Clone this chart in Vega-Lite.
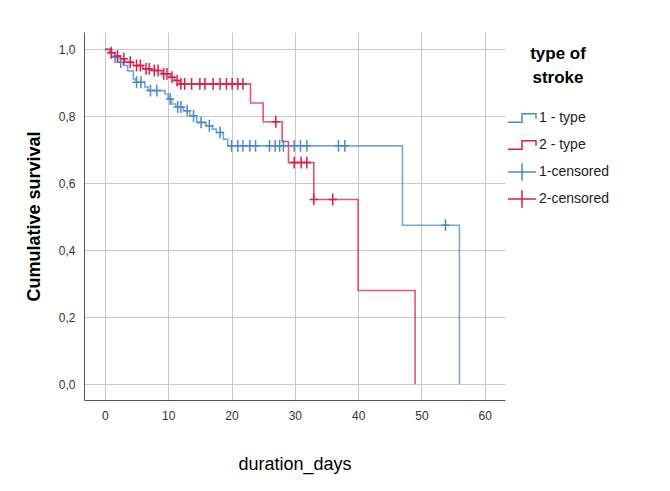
{
  "$schema": "https://vega.github.io/schema/vega-lite/v6.json",
  "width": 421,
  "height": 368,
  "autosize": "none",
  "padding": {"left": 84, "top": 32, "right": 165, "bottom": 91},
  "background": "white",
  "config": {
    "view": {"stroke": null},
    "font": "Liberation Sans",
    "axis": {
      "grid": true,
      "gridColor": "#c8c8c8",
      "gridWidth": 1,
      "ticks": false,
      "domainColor": "#555555",
      "domainWidth": 1,
      "labelFontSize": 12,
      "labelColor": "#333333",
      "labelPadding": 9,
      "titleColor": "#000000"
    }
  },
  "datasets": {
    "curves": [
      {"series": "1 - type", "t": 0, "s": 1.0},
      {"series": "1 - type", "t": 1.1, "s": 0.977},
      {"series": "1 - type", "t": 2.0, "s": 0.962},
      {"series": "1 - type", "t": 2.9, "s": 0.952},
      {"series": "1 - type", "t": 3.6, "s": 0.936},
      {"series": "1 - type", "t": 4.5, "s": 0.912},
      {"series": "1 - type", "t": 4.9, "s": 0.902},
      {"series": "1 - type", "t": 6.3, "s": 0.888},
      {"series": "1 - type", "t": 6.8, "s": 0.877},
      {"series": "1 - type", "t": 9.5, "s": 0.867},
      {"series": "1 - type", "t": 10.0, "s": 0.852},
      {"series": "1 - type", "t": 10.6, "s": 0.837},
      {"series": "1 - type", "t": 11.2, "s": 0.828},
      {"series": "1 - type", "t": 12.4, "s": 0.817},
      {"series": "1 - type", "t": 13.4, "s": 0.802},
      {"series": "1 - type", "t": 14.5, "s": 0.782},
      {"series": "1 - type", "t": 16.0, "s": 0.772},
      {"series": "1 - type", "t": 17.0, "s": 0.762},
      {"series": "1 - type", "t": 17.6, "s": 0.752},
      {"series": "1 - type", "t": 18.7, "s": 0.732},
      {"series": "1 - type", "t": 19.4, "s": 0.712},
      {"series": "1 - type", "t": 47.0, "s": 0.475},
      {"series": "1 - type", "t": 56.0, "s": 0.0},
      {"series": "2 - type", "t": 0, "s": 1.0},
      {"series": "2 - type", "t": 0.8, "s": 0.99},
      {"series": "2 - type", "t": 1.6, "s": 0.98},
      {"series": "2 - type", "t": 2.4, "s": 0.972},
      {"series": "2 - type", "t": 3.2, "s": 0.962},
      {"series": "2 - type", "t": 4.5, "s": 0.952},
      {"series": "2 - type", "t": 6.0, "s": 0.942},
      {"series": "2 - type", "t": 7.4, "s": 0.937},
      {"series": "2 - type", "t": 9.0, "s": 0.927},
      {"series": "2 - type", "t": 10.3, "s": 0.917},
      {"series": "2 - type", "t": 11.0, "s": 0.907},
      {"series": "2 - type", "t": 11.8, "s": 0.897},
      {"series": "2 - type", "t": 23.0, "s": 0.84},
      {"series": "2 - type", "t": 25.0, "s": 0.784},
      {"series": "2 - type", "t": 28.0, "s": 0.725},
      {"series": "2 - type", "t": 29.0, "s": 0.662},
      {"series": "2 - type", "t": 33.0, "s": 0.552},
      {"series": "2 - type", "t": 40.0, "s": 0.28},
      {"series": "2 - type", "t": 49.0, "s": 0.0}
    ],
    "censored": [
      {"series": "1-censored", "t": 1.6, "s": 0.977},
      {"series": "1-censored", "t": 2.5, "s": 0.962},
      {"series": "1-censored", "t": 5.0, "s": 0.902},
      {"series": "1-censored", "t": 5.7, "s": 0.902},
      {"series": "1-censored", "t": 7.2, "s": 0.877},
      {"series": "1-censored", "t": 8.2, "s": 0.877},
      {"series": "1-censored", "t": 10.3, "s": 0.852},
      {"series": "1-censored", "t": 11.5, "s": 0.828},
      {"series": "1-censored", "t": 12.0, "s": 0.828},
      {"series": "1-censored", "t": 13.0, "s": 0.817},
      {"series": "1-censored", "t": 14.0, "s": 0.802},
      {"series": "1-censored", "t": 15.2, "s": 0.782},
      {"series": "1-censored", "t": 16.5, "s": 0.772},
      {"series": "1-censored", "t": 18.2, "s": 0.752},
      {"series": "1-censored", "t": 20.0, "s": 0.712},
      {"series": "1-censored", "t": 21.0, "s": 0.712},
      {"series": "1-censored", "t": 21.8, "s": 0.712},
      {"series": "1-censored", "t": 22.9, "s": 0.712},
      {"series": "1-censored", "t": 23.8, "s": 0.712},
      {"series": "1-censored", "t": 26.0, "s": 0.712},
      {"series": "1-censored", "t": 26.9, "s": 0.712},
      {"series": "1-censored", "t": 27.6, "s": 0.712},
      {"series": "1-censored", "t": 28.2, "s": 0.712},
      {"series": "1-censored", "t": 29.9, "s": 0.712},
      {"series": "1-censored", "t": 30.9, "s": 0.712},
      {"series": "1-censored", "t": 31.9, "s": 0.712},
      {"series": "1-censored", "t": 36.9, "s": 0.712},
      {"series": "1-censored", "t": 37.9, "s": 0.712},
      {"series": "1-censored", "t": 53.8, "s": 0.475},
      {"series": "2-censored", "t": 1.0, "s": 0.99},
      {"series": "2-censored", "t": 2.0, "s": 0.98},
      {"series": "2-censored", "t": 3.0, "s": 0.972},
      {"series": "2-censored", "t": 4.0, "s": 0.962},
      {"series": "2-censored", "t": 5.0, "s": 0.952},
      {"series": "2-censored", "t": 5.6, "s": 0.952},
      {"series": "2-censored", "t": 6.5, "s": 0.942},
      {"series": "2-censored", "t": 7.0, "s": 0.942},
      {"series": "2-censored", "t": 7.8, "s": 0.937},
      {"series": "2-censored", "t": 8.4, "s": 0.937},
      {"series": "2-censored", "t": 9.3, "s": 0.927},
      {"series": "2-censored", "t": 9.8, "s": 0.927},
      {"series": "2-censored", "t": 10.6, "s": 0.917},
      {"series": "2-censored", "t": 11.4, "s": 0.907},
      {"series": "2-censored", "t": 12.0, "s": 0.897},
      {"series": "2-censored", "t": 12.6, "s": 0.897},
      {"series": "2-censored", "t": 13.7, "s": 0.897},
      {"series": "2-censored", "t": 15.0, "s": 0.897},
      {"series": "2-censored", "t": 15.8, "s": 0.897},
      {"series": "2-censored", "t": 17.1, "s": 0.897},
      {"series": "2-censored", "t": 18.2, "s": 0.897},
      {"series": "2-censored", "t": 19.2, "s": 0.897},
      {"series": "2-censored", "t": 20.1, "s": 0.897},
      {"series": "2-censored", "t": 21.0, "s": 0.897},
      {"series": "2-censored", "t": 21.8, "s": 0.897},
      {"series": "2-censored", "t": 27.0, "s": 0.784},
      {"series": "2-censored", "t": 29.9, "s": 0.662},
      {"series": "2-censored", "t": 31.0, "s": 0.662},
      {"series": "2-censored", "t": 31.9, "s": 0.662},
      {"series": "2-censored", "t": 33.0, "s": 0.552},
      {"series": "2-censored", "t": 36.0, "s": 0.552}
    ]
  },
  "layer": [
    {
      "data": {"name": "curves"},
      "mark": {"type": "line", "interpolate": "step-after", "strokeWidth": 1.6, "opacity": 0.75},
      "encoding": {
        "x": {
          "field": "t", "type": "quantitative",
          "scale": {"domain": [-3.3, 63.2], "nice": false, "zero": false},
          "axis": {"values": [0, 10, 20, 30, 40, 50, 60], "title": "duration_days", "titleFontSize": 18, "titleFontWeight": "normal", "titlePadding": 34, "labelPadding": 10}
        },
        "y": {
          "field": "s", "type": "quantitative",
          "scale": {"domain": [-0.047, 1.052], "nice": false, "zero": false},
          "axis": {"values": [0, 0.2, 0.4, 0.6, 0.8, 1.0], "labelExpr": "replace(format(datum.value, '.1f'), '.', ',')", "title": "Cumulative survival", "titleFontSize": 18, "titleFontWeight": "bold", "titlePadding": 15}
        },
        "color": {
          "field": "series", "type": "nominal",
          "scale": {"domain": ["1 - type", "2 - type", "1-censored", "2-censored"], "range": ["#4a8ad0", "#dc1e45", "#4a8ad0", "#dc1e45"]},
          "legend": {
            "orient": "none", "legendX": 423, "legendY": 14, "padding": 0,
            "title": ["type of", "stroke"], "titleFontSize": 17, "titleFontWeight": "bold", "titleColor": "#000000",
            "titleAlign": "center", "titleAnchor": "middle", "titleLineHeight": 24, "titlePadding": 16,
            "labelFontSize": 14, "labelColor": "#222222", "labelOffset": 2,
            "symbolSize": 784, "symbolStrokeWidth": 1.5, "rowPadding": -7, "gridAlign": "all", "symbolOpacity": 1,
            "symbolFillColor": "transparent",
            "symbolType": {"expr": "indexof(['1 - type','2 - type'], datum.value) >= 0 ? 'M-1,0.3H0V-0.3H1V0.05' : 'M-1,0H1M0,-0.62V0.62'"}
          }
        }
      }
    },
    {
      "data": {"name": "censored"},
      "mark": {"type": "point", "shape": "M-0.7,0H0.7M0,-1V1", "size": 140, "strokeWidth": 1.5, "filled": false, "opacity": 1},
      "encoding": {
        "x": {"field": "t", "type": "quantitative"},
        "y": {"field": "s", "type": "quantitative"},
        "color": {"field": "series", "type": "nominal"}
      }
    }
  ]
}
